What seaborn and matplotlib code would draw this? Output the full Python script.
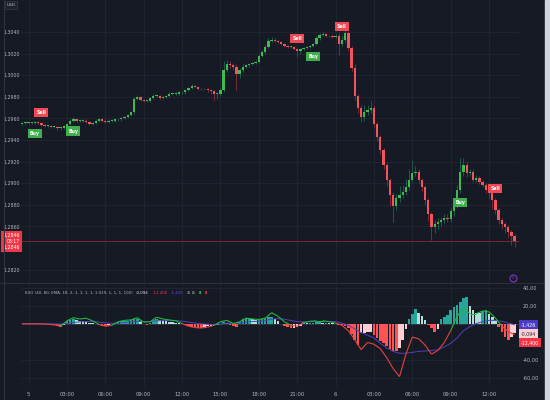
import numpy as np
import pandas as pd
import matplotlib
matplotlib.use("Agg")
import matplotlib.pyplot as plt
import matplotlib.transforms as mtransforms
from matplotlib.collections import LineCollection
from matplotlib.lines import Line2D
from matplotlib.patches import Rectangle
from matplotlib.ticker import FuncFormatter
import seaborn as sns

# 15 minute candles, first one at 23:30 on the 4th (hours counted from the 5th 00:00)
start_hour = -0.5
bar_hours = 0.25
first_open = 1.2955

close = [
    1.2956, 1.2956, 1.2956, 1.2956, 1.2957, 1.2956, 1.2954, 1.2953, 1.2953, 1.2952,
    1.2952, 1.2951, 1.2951, 1.2953, 1.2955, 1.2958, 1.2959, 1.2958, 1.2958, 1.2958,
    1.2957, 1.2955, 1.2956, 1.2958, 1.2959, 1.2958, 1.2957, 1.2958, 1.2958, 1.2959,
    1.2959, 1.2960, 1.2961, 1.2963, 1.2966, 1.2978, 1.2980, 1.2977, 1.2976, 1.2976,
    1.2979, 1.2981, 1.2981, 1.2979, 1.2980, 1.2981, 1.2983, 1.2983, 1.2983, 1.2984,
    1.2984, 1.2986, 1.2988, 1.2990, 1.2989, 1.2987, 1.2987, 1.2987, 1.2986, 1.2985,
    1.2983, 1.2983, 1.2986, 1.3005, 1.3010, 1.3009, 1.3008, 1.3001, 1.3005, 1.3008,
    1.3009, 1.3010, 1.3011, 1.3012, 1.3018, 1.3021, 1.3026, 1.3032, 1.3033, 1.3032,
    1.3031, 1.3029, 1.3027, 1.3026, 1.3026, 1.3024, 1.3022, 1.3024, 1.3025, 1.3026,
    1.3027, 1.3029, 1.3034, 1.3037, 1.3038, 1.3036, 1.3036, 1.3035, 1.3036, 1.3029,
    1.3033, 1.3039, 1.3025, 1.3007, 1.2981, 1.2970, 1.2961, 1.2966, 1.2968, 1.2970,
    1.2955, 1.2943, 1.2931, 1.2917, 1.2903, 1.2889, 1.2879, 1.2886, 1.2889, 1.2892,
    1.2896, 1.2903, 1.2909, 1.2910, 1.2903, 1.2896, 1.2884, 1.2871, 1.2859, 1.2862,
    1.2864, 1.2866, 1.2868, 1.2867, 1.2874, 1.2880, 1.2894, 1.2910, 1.2917, 1.2909,
    1.2910, 1.2903, 1.2905, 1.2901, 1.2898, 1.2894, 1.2891, 1.2884, 1.2875, 1.2866,
    1.2862, 1.2859, 1.2855, 1.2851, 1.2846,
]

# wick lengths above / below the body, in pips
wick_up = [
    1, 1, 1, 1, 1, 1, 1, 1, 1, 1,
    1, 1, 1, 1, 1, 1, 2, 1, 1, 1,
    1, 1, 1, 1, 1, 1, 1, 1, 1, 1,
    1, 1, 1, 1, 1, 2, 2, 1, 1, 1,
    1, 2, 1, 1, 1, 1, 1, 1, 1, 1,
    1, 1, 1, 2, 1, 1, 1, 1, 1, 1,
    1, 1, 2, 8, 4, 3, 2, 2, 2, 2,
    1, 1, 1, 2, 2, 2, 2, 2, 2, 1,
    1, 1, 1, 1, 1, 1, 1, 1, 1, 1,
    1, 1, 2, 2, 2, 1, 1, 1, 2, 3,
    3, 9, 2, 2, 3, 2, 2, 6, 4, 6,
    2, 2, 2, 2, 3, 2, 3, 4, 8, 6,
    8, 10, 12, 6, 3, 2, 2, 2, 2, 4,
    4, 3, 3, 3, 3, 4, 4, 13, 6, 3,
    3, 3, 3, 2, 2, 2, 3, 3, 2, 2,
    2, 2, 2, 2, 2,
]
wick_dn = [
    1, 1, 1, 1, 1, 1, 1, 1, 1, 1,
    1, 2, 2, 1, 1, 1, 1, 1, 1, 1,
    1, 1, 1, 1, 1, 1, 1, 1, 1, 1,
    1, 1, 1, 1, 1, 2, 1, 1, 1, 1,
    1, 1, 1, 1, 1, 1, 1, 1, 1, 1,
    1, 1, 1, 1, 1, 1, 1, 1, 2, 2,
    6, 5, 2, 2, 2, 2, 3, 15, 4, 2,
    1, 1, 1, 1, 1, 1, 1, 1, 1, 1,
    1, 1, 1, 1, 1, 1, 5, 2, 1, 1,
    1, 1, 1, 1, 1, 1, 1, 1, 1, 10,
    2, 2, 3, 3, 4, 5, 4, 3, 3, 3,
    3, 4, 4, 4, 6, 10, 15, 4, 3, 3,
    3, 2, 2, 2, 3, 3, 4, 6, 12, 5,
    4, 4, 3, 3, 3, 4, 3, 3, 3, 3,
    2, 2, 2, 2, 2, 3, 5, 8, 4, 4,
    4, 5, 6, 8, 5,
]

buy_idx = [4, 16, 91, 137]
sell_idx = [6, 86, 100, 148]

# KVO histogram, one value per candle
hist = [
    -0.5, -0.5, -0.6, -0.4, -0.3, -0.5, -0.8, -1.0, -1.0, -1.2,
    -1.5, -2.5, -3.5, -1.5, 2.5, 3.5, 4.5, 4.0, 3.0, 2.5,
    2.0, 1.0, 0.5, -1.0, -2.0, -2.5, -3.0, -2.0, -1.0, 1.0,
    2.0, 2.5, 3.0, 3.0, 3.5, 4.5, 5.0, 3.0, -1.0, -2.0,
    1.0, 3.5, 5.0, 4.0, 3.0, 2.5, 2.0, 1.5, 1.0, 0.5,
    -1.0, -2.0, -3.0, -3.5, -4.0, -4.5, -5.0, -4.0, -3.0, -2.5,
    -2.0, -1.5, -0.5, 1.5, 1.0, -1.5, -3.0, -3.5, 2.0, 5.0,
    6.0, 6.5, 5.0, 4.0, 4.5, 5.0, 6.0, 7.0, 7.0, 5.0,
    3.0, -1.0, -3.0, -4.0, -5.0, -4.5, -4.0, -3.0, 1.5, 0.5,
    1.0, 1.0, 1.5, 1.5, 1.0, 1.0, 0.5, 0.3, -0.5, -1.5,
    -2.0, -3.0, -5.5, -12.0, -18.5, -24.0, -11.0, -10.0, -9.5, -9.0,
    -13.0, -16.0, -19.0, -22.0, -25.0, -28.0, -30.0, -31.0, -27.0, -18.0,
    -6.0, 5.5, 11.0, 16.5, 12.0, 8.0, 4.0, -2.0, -5.5, -9.0,
    -6.0, 5.5, 7.0, 10.0, 15.0, 18.0, 21.0, 24.0, 28.0, 30.0,
    20.0, 15.0, 12.0, 11.5, 14.0, 15.0, 11.0, 7.0, 4.0, -4.0,
    -9.0, -15.0, -18.5, -15.0, -11.0,
]

# KVO line and signal, one value every second candle
kvo_line = [
    -0.3, -0.4, -0.3, -0.5, -0.8, -1.5, -3.0, 3.0, 6.5, 5.0,
    6.0, 3.0, -1.0, -3.0, -2.0, 2.0, 3.5, 4.0, 6.5, 1.5,
    2.0, 7.0, 5.0, 4.0, 3.0, 0.0, -3.0, -4.5, -5.0, -4.0,
    -2.0, 2.0, 3.5, 0.0, 2.0, 6.0, 5.0, 4.5, 6.0, 12.0,
    8.0, 2.0, -2.0, -3.0, 1.0, 2.5, 3.0, 3.0, 2.0, 0.5,
    -2.0, -8.0, -18.0, -29.0, -21.0, -23.0, -28.0, -38.0, -50.0, -59.0,
    -34.0, -15.0, -17.0, -24.0, -34.0, -30.0, -21.0, -8.0, 8.0, 17.0,
    11.0, 11.0, 14.0, 13.0, 6.0, -3.0, -9.0, -12.4,
]
kvo_signal = [
    0.0, 0.0, 0.0, -0.1, -0.2, -0.4, -0.7, 0.0, 1.2, 1.8,
    2.3, 2.3, 1.6, 0.7, 0.2, 0.5, 1.1, 1.7, 2.5, 2.2,
    2.2, 3.0, 3.3, 3.4, 3.3, 2.6, 1.6, 0.6, -0.3, -0.9,
    -1.1, -0.5, 0.3, 0.2, 0.5, 1.6, 2.2, 2.6, 3.2, 4.8,
    5.4, 4.8, 3.4, 2.1, 1.9, 2.0, 2.2, 2.4, 2.3, 2.0,
    0.5, -2.0, -6.0, -10.0, -13.0, -16.0, -22.0, -27.0, -31.0, -33.0,
    -33.0, -32.0, -31.0, -30.5, -30.0, -29.0, -26.0, -22.0, -16.0, -8.0,
    -3.5, 0.0, 2.0, 3.5, 3.5, 2.5, 0.5, -1.4,
]

time_ticks = [0, 3, 6, 9, 12, 15, 18, 21, 24, 27, 30, 33, 36]
time_labels = ["5", "03:00", "06:00", "09:00", "12:00", "15:00", "18:00",
               "21:00", "6", "03:00", "06:00", "09:00", "12:00"]
price_ticks = [1.2820, 1.2860, 1.2880, 1.2900, 1.2920, 1.2940, 1.2960,
               1.2980, 1.3000, 1.3020, 1.3040]
kvo_ticks = [-60, -40, 20, 40]

# build the candle table
df = pd.DataFrame({"close": close})
df["open"] = [first_open] + close[:-1]
df["high"] = df[["open", "close"]].max(axis=1) + np.array(wick_up) * 1e-4
df["low"] = df[["open", "close"]].min(axis=1) - np.array(wick_dn) * 1e-4
df["hour"] = start_hour + bar_hours * np.arange(len(df))
df["up"] = df["close"] >= df["open"]
df["hist"] = hist
line_hours = df["hour"].values[::2]

bg = "#161a25"
grid = "#222633"
txt = "#b2b5be"
up_col, dn_col = "#3fb950", "#f0545f"
up_wick, dn_wick = "#1d5c4c", "#7a2d38"

sns.set_theme(style="dark", rc={"axes.facecolor": bg, "figure.facecolor": bg})
plt.rcParams["font.family"] = ["DejaVu Sans"]

fig = plt.figure(figsize=(5.5, 4), dpi=100)
ax_p = fig.add_axes([21 / 550, 1 - 282 / 400, 498 / 550, 282 / 400])
ax_i = fig.add_axes([21 / 550, 1 - 386 / 400, 498 / 550, 102 / 400])
xlim = ((21 - 28.6) / 12.79, (519 - 28.6) / 12.79)

for ax in (ax_p, ax_i):
    ax.set_facecolor(bg)
    ax.set_xlim(*xlim)
    for s in ax.spines.values():
        s.set_visible(False)
    ax.set_xticks(time_ticks)
    ax.grid(True, color=grid, lw=0.6)
    ax.set_xlabel("")
    ax.set_ylabel("")

# ---- price pane
ax_p.set_ylim(1.28085, 1.30696)
ax_p.set_yticks(price_ticks)
ax_p.yaxis.set_major_formatter(FuncFormatter(lambda v, p: f"{v:.4f}".replace(".", ",")))
ax_p.tick_params(axis="y", length=0, pad=0.8, labelsize=3.4, labelcolor=txt)
ax_p.tick_params(axis="x", length=0, labelbottom=False)

ax_p.axhline(df["close"].iloc[-1], color="#8a2a35", lw=0.6, zorder=1)
ax_p.vlines(df["hour"], df["low"], df["high"],
            colors=np.where(df["up"], up_wick, dn_wick), lw=0.7, zorder=2)
body = (df["close"] - df["open"]).abs().clip(lower=0.00006)
ax_p.bar(df["hour"], body, bottom=df[["open", "close"]].min(axis=1), width=0.18,
         color=np.where(df["up"], up_col, dn_col), linewidth=0, zorder=3)

for i in sell_idx:
    ax_p.annotate("Sell", xy=(df["hour"][i], df["high"][i]), xytext=(0, 5),
                  textcoords="offset points", ha="center", va="bottom",
                  fontsize=3.3, color="white", fontweight="bold", zorder=5,
                  bbox=dict(boxstyle="square,pad=0.45", fc="#f04a56", ec="none"))
for i in buy_idx:
    ax_p.annotate("Buy", xy=(df["hour"][i], df["low"][i]), xytext=(0, -5),
                  textcoords="offset points", ha="center", va="top",
                  fontsize=3.3, color="white", fontweight="bold", zorder=5,
                  bbox=dict(boxstyle="square,pad=0.45", fc="#3fae4c", ec="none"))

# last price box on the left scale
blend_p = mtransforms.blended_transform_factory(ax_p.transAxes, ax_p.transData)
ax_p.text(-0.002, df["close"].iloc[-1], "1,2846\n03:17\n1,2846", transform=blend_p,
          ha="right", va="center", fontsize=3.3, linespacing=1.3, color="white",
          bbox=dict(boxstyle="square,pad=0.5", fc="#f23645", ec="none"), zorder=6,
          clip_on=False)
ax_p.plot(37.87, 1.28122, marker="o", ms=5, mfc="none", mec="#7d3cc0", mew=0.8)
ax_p.text(37.87, 1.28122, "0", fontsize=2.8, color="#7d3cc0", ha="center", va="center")

# ---- KVO pane
ax_i.set_ylim(-69.4, 43.9)
ax_i.yaxis.tick_right()
ax_i.set_yticks(kvo_ticks)
ax_i.yaxis.set_major_formatter(FuncFormatter(lambda v, p: f"{v:.2f}".replace(".", ",")))
ax_i.tick_params(axis="y", length=0, pad=3, labelsize=3.6, labelcolor=txt)
ax_i.tick_params(axis="x", length=0, pad=4, labelsize=3.8, labelcolor=txt)
ax_i.set_xticklabels(time_labels)

prev = np.r_[0, df["hist"].values[:-1]]
hv = df["hist"].values
hist_cols = np.where(hv >= 0, np.where(hv >= prev, "#26a69a", "#b2dfdb"),
                     np.where(hv < prev, "#ff5252", "#ffcdd2"))
ax_i.bar(df["hour"], hv, width=0.2, color=hist_cols, linewidth=0, zorder=2)
ax_i.axhline(0, color="#3a3e4a", lw=0.5, zorder=1)

sns.lineplot(x=line_hours, y=kvo_signal, ax=ax_i, color="#5240b8", lw=0.7, zorder=3)

# KVO line: green above zero, red below
pts = np.column_stack([line_hours, kvo_line])
segs = np.stack([pts[:-1], pts[1:]], axis=1)
mid = (np.array(kvo_line[:-1]) + np.array(kvo_line[1:])) / 2
lc = LineCollection(segs, colors=np.where(mid >= 0, "#22b83a", "#e8433e"), lw=0.8, zorder=4)
ax_i.add_collection(lc)

blend_i = mtransforms.blended_transform_factory(ax_i.transAxes, ax_i.transData)
last_sig = kvo_signal[-1]
for text, fc, tc, dy in [("-1,426", "#4b3bc4", "white", 0),
                         ("-0,094", "#f6d0d4", "#3a2a30", -6.5),
                         ("-12,400", "#f23645", "white", -13)]:
    ax_i.annotate(text, xy=(1.0, last_sig), xycoords=blend_i, xytext=(1.5, dy),
                  textcoords="offset points", ha="left", va="center", fontsize=3.4,
                  color=tc, annotation_clip=False, zorder=6,
                  bbox=dict(boxstyle="square,pad=0.4", fc=fc, ec="none"))

# legend row of the indicator, each piece placed right after the previous one
ly = 1 - 293 / 400
last_art = fig.text(25 / 550, ly, "KVO (40, 80, EMA, 18, 2, 1, 1, 1, 1, 1.019, 1, 1, 1, 100)",
                    fontsize=2.9, color=txt, va="center")
for piece, col in [("-0,094", "#e0e3eb"), ("-12,400", "#f23645"), ("-1,426", "#5b4bd6"),
                   ("\u2298 \u2298", txt), ("\u25ae", "#3fb950"), ("\u25ae", "#f23645")]:
    last_art = ax_i.annotate(piece, xy=(1, 0.5), xycoords=last_art, xytext=(2.5, 0),
                             textcoords="offset points", fontsize=2.9, color=col,
                             ha="left", va="center", annotation_clip=False)

# chrome: currency tag, pane divider, borders
fig.text(11 / 550, 1 - 5 / 400, "USD", fontsize=3.2, color=txt, ha="center", va="center",
         bbox=dict(boxstyle="square,pad=0.4", fc="#1e222d", ec="#363a45", lw=0.5))
fig.add_artist(Line2D([0, 545 / 550], [1 - 283 / 400] * 2, color="#2a2e39", lw=0.8))
fig.add_artist(Line2D([4 / 550] * 2, [0, 1], color="#2f3340", lw=0.8))
fig.add_artist(Rectangle((545 / 550, 0), 5 / 550, 1, transform=fig.transFigure,
                         color="#d1d4dc", zorder=10))

fig.savefig("out.png", dpi=100, facecolor=bg)
